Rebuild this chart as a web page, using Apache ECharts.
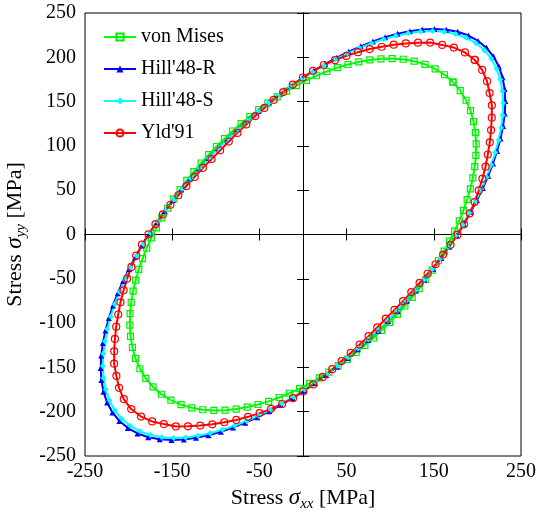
<!DOCTYPE html>
<html><head><meta charset="utf-8">
<script src="https://cdn.jsdelivr.net/npm/echarts@6/dist/echarts.min.js"></script>
<style>html,body{margin:0;padding:0;background:#fff}#c{width:536px;height:521px}</style>
</head><body><div id="c"></div>
<script>
const seriesNames = ["von Mises", "Hill'48-R", "Hill'48-S", "Yld'91"];
const xTickValues = [-250, -150, -50, 50, 150, 250];
const yTickValues = [-250, -200, -150, -100, -50, 0, 50, 100, 150, 200, 250];

const vonMises = [
[172.0,172.0],[180.3,162.3],[187.0,151.5],[192.1,139.8],[195.6,127.5],[197.8,114.9],[198.6,102.2],[198.3,89.4],[197.0,76.6],[194.8,64.0],[191.9,51.6],[188.3,39.4],[184.0,27.3],[179.2,15.5],[173.9,3.9],[168.1,-7.5],[161.9,-18.7],[155.3,-29.6],[148.2,-40.3],[140.9,-50.8],[133.2,-61.0],[125.2,-71.0],[116.8,-80.7],[108.2,-90.1],
[99.3,-99.3],[90.1,-108.2],[80.7,-116.8],[71.0,-125.2],[61.0,-133.2],[50.8,-140.9],[40.3,-148.2],[29.6,-155.3],[18.7,-161.9],[7.5,-168.1],[-3.9,-173.9],[-15.5,-179.2],[-27.3,-184.0],[-39.4,-188.3],[-51.6,-191.9],[-64.0,-194.8],[-76.6,-197.0],[-89.4,-198.3],[-102.2,-198.6],[-114.9,-197.8],[-127.5,-195.6],[-139.8,-192.1],[-151.5,-187.0],[-162.3,-180.3],
[-172.0,-172.0],[-180.3,-162.3],[-187.0,-151.5],[-192.1,-139.8],[-195.6,-127.5],[-197.8,-114.9],[-198.6,-102.2],[-198.3,-89.4],[-197.0,-76.6],[-194.8,-64.0],[-191.9,-51.6],[-188.3,-39.4],[-184.0,-27.3],[-179.2,-15.5],[-173.9,-3.9],[-168.1,7.5],[-161.9,18.7],[-155.3,29.6],[-148.2,40.3],[-140.9,50.8],[-133.2,61.0],[-125.2,71.0],[-116.8,80.7],[-108.2,90.1],
[-99.3,99.3],[-90.1,108.2],[-80.7,116.8],[-71.0,125.2],[-61.0,133.2],[-50.8,140.9],[-40.3,148.2],[-29.6,155.3],[-18.7,161.9],[-7.5,168.1],[3.9,173.9],[15.5,179.2],[27.3,184.0],[39.4,188.3],[51.6,191.9],[64.0,194.8],[76.6,197.0],[89.4,198.3],[102.2,198.6],[114.9,197.8],[127.5,195.6],[139.8,192.1],[151.5,187.0],[162.3,180.3],
[172.0,172.0]
];

const hill48R = [
[210.5,210.5],[218.5,200.8],[224.6,189.7],[228.8,177.4],[231.2,164.3],[232.0,150.7],[231.4,136.7],[229.5,122.6],[226.5,108.4],[222.6,94.2],[217.9,80.1],[212.4,66.2],[206.3,52.4],[199.5,38.8],[192.3,25.3],[184.5,12.1],[176.3,-1.0],[167.6,-13.9],[158.6,-26.6],[149.2,-39.0],[139.5,-51.2],[129.5,-63.1],[119.1,-74.8],[108.5,-86.3],
[97.5,-97.5],[86.3,-108.5],[74.8,-119.1],[63.1,-129.5],[51.2,-139.5],[39.0,-149.2],[26.6,-158.6],[13.9,-167.6],[1.0,-176.3],[-12.1,-184.5],[-25.3,-192.3],[-38.8,-199.5],[-52.4,-206.3],[-66.2,-212.4],[-80.1,-217.9],[-94.2,-222.6],[-108.4,-226.5],[-122.6,-229.5],[-136.7,-231.4],[-150.7,-232.0],[-164.3,-231.2],[-177.4,-228.8],[-189.7,-224.6],[-200.8,-218.5],
[-210.5,-210.5],[-218.5,-200.8],[-224.6,-189.7],[-228.8,-177.4],[-231.2,-164.3],[-232.0,-150.7],[-231.4,-136.7],[-229.5,-122.6],[-226.5,-108.4],[-222.6,-94.2],[-217.9,-80.1],[-212.4,-66.2],[-206.3,-52.4],[-199.5,-38.8],[-192.3,-25.3],[-184.5,-12.1],[-176.3,1.0],[-167.6,13.9],[-158.6,26.6],[-149.2,39.0],[-139.5,51.2],[-129.5,63.1],[-119.1,74.8],[-108.5,86.3],
[-97.5,97.5],[-86.3,108.5],[-74.8,119.1],[-63.1,129.5],[-51.2,139.5],[-39.0,149.2],[-26.6,158.6],[-13.9,167.6],[-1.0,176.3],[12.1,184.5],[25.3,192.3],[38.8,199.5],[52.4,206.3],[66.2,212.4],[80.1,217.9],[94.2,222.6],[108.4,226.5],[122.6,229.5],[136.7,231.4],[150.7,232.0],[164.3,231.2],[177.4,228.8],[189.7,224.6],[200.8,218.5],
[210.5,210.5]
];

const hill48S = [
[208.0,208.0],[215.9,198.4],[222.0,187.2],[226.3,175.0],[228.7,162.0],[229.6,148.5],[229.0,134.7],[227.2,120.6],[224.4,106.6],[220.5,92.5],[215.9,78.6],[210.5,64.8],[204.5,51.1],[197.9,37.6],[190.7,24.3],[183.1,11.1],[175.0,-1.8],[166.5,-14.5],[157.5,-27.1],[148.3,-39.3],[138.7,-51.4],[128.8,-63.2],[118.5,-74.8],[108.0,-86.1],
[97.2,-97.2],[86.1,-108.0],[74.8,-118.5],[63.2,-128.8],[51.4,-138.7],[39.3,-148.3],[27.1,-157.5],[14.5,-166.5],[1.8,-175.0],[-11.1,-183.1],[-24.3,-190.7],[-37.6,-197.9],[-51.1,-204.5],[-64.8,-210.5],[-78.6,-215.9],[-92.5,-220.5],[-106.6,-224.4],[-120.6,-227.2],[-134.7,-229.0],[-148.5,-229.6],[-162.0,-228.7],[-175.0,-226.3],[-187.2,-222.0],[-198.4,-215.9],
[-208.0,-208.0],[-215.9,-198.4],[-222.0,-187.2],[-226.3,-175.0],[-228.7,-162.0],[-229.6,-148.5],[-229.0,-134.7],[-227.2,-120.6],[-224.4,-106.6],[-220.5,-92.5],[-215.9,-78.6],[-210.5,-64.8],[-204.5,-51.1],[-197.9,-37.6],[-190.7,-24.3],[-183.1,-11.1],[-175.0,1.8],[-166.5,14.5],[-157.5,27.1],[-148.3,39.3],[-138.7,51.4],[-128.8,63.2],[-118.5,74.8],[-108.0,86.1],
[-97.2,97.2],[-86.1,108.0],[-74.8,118.5],[-63.2,128.8],[-51.4,138.7],[-39.3,148.3],[-27.1,157.5],[-14.5,166.5],[-1.8,175.0],[11.1,183.1],[24.3,190.7],[37.6,197.9],[51.1,204.5],[64.8,210.5],[78.6,215.9],[92.5,220.5],[106.6,224.4],[120.6,227.2],[134.7,229.0],[148.5,229.6],[162.0,228.7],[175.0,226.3],[187.2,222.0],[198.4,215.9],
[208.0,208.0]
];

const yld91 = [
[197.0,197.0],[205.5,185.7],[211.0,173.0],[214.0,159.6],[216.6,145.8],[216.5,131.9],[215.7,117.9],[214.2,104.0],[211.9,90.3],[209.3,76.5],[205.8,63.0],[201.6,49.8],[196.8,36.6],[191.3,23.9],[184.7,11.5],[177.2,-0.2],[169.2,-11.7],[160.7,-22.7],[152.0,-33.6],[142.9,-44.3],[133.7,-54.7],[124.2,-65.0],[114.7,-75.2],[104.9,-85.1],
[95.0,-95.0],[85.1,-104.9],[75.2,-114.7],[65.0,-124.2],[54.7,-133.7],[44.3,-142.9],[33.6,-152.0],[22.7,-160.7],[11.7,-169.2],[0.2,-177.2],[-11.5,-184.7],[-23.9,-191.3],[-36.6,-196.8],[-49.8,-201.6],[-63.0,-205.8],[-76.5,-209.3],[-90.3,-211.9],[-104.0,-214.2],[-117.9,-215.7],[-131.9,-216.5],[-145.8,-216.6],[-159.6,-214.0],[-173.0,-211.0],[-185.7,-205.5],
[-197.0,-197.0],[-205.5,-185.7],[-211.0,-173.0],[-214.0,-159.6],[-216.6,-145.8],[-216.5,-131.9],[-215.7,-117.9],[-214.2,-104.0],[-211.9,-90.3],[-209.3,-76.5],[-205.8,-63.0],[-201.6,-49.8],[-196.8,-36.6],[-191.3,-23.9],[-184.7,-11.5],[-177.2,0.2],[-169.2,11.7],[-160.7,22.7],[-152.0,33.6],[-142.9,44.3],[-133.7,54.7],[-124.2,65.0],[-114.7,75.2],[-104.9,85.1],
[-95.0,95.0],[-85.1,104.9],[-75.2,114.7],[-65.0,124.2],[-54.7,133.7],[-44.3,142.9],[-33.6,152.0],[-22.7,160.7],[-11.7,169.2],[-0.2,177.2],[11.5,184.7],[23.9,191.3],[36.6,196.8],[49.8,201.6],[63.0,205.8],[76.5,209.3],[90.3,211.9],[104.0,214.2],[117.9,215.7],[131.9,216.5],[145.8,216.6],[159.6,214.0],[173.0,211.0],[185.7,205.5],
[197.0,197.0]
];

const FONT = "'Liberation Serif','Times New Roman',serif";
const titleRich = {
  a: { fontFamily: FONT, fontSize: 22, color: '#000' },
  s: { fontFamily: FONT, fontSize: 23, fontStyle: 'italic', color: '#000' },
  sub: { fontFamily: FONT, fontSize: 15, fontStyle: 'italic', color: '#000', padding: [12, 0, 0, 0] }
};

const chart = echarts.init(document.getElementById('c'), null, { renderer: 'canvas' });

function centerAxis(dim, inside) {
  return {
    type: 'value', min: -250, max: 250, interval: 50,
    position: dim === 'x' ? 'bottom' : 'left',
    axisLine: { show: true, onZero: true, onZeroAxisIndex: 0, lineStyle: { color: '#000', width: 1 } },
    axisTick: { show: true, inside: inside, length: 6, lineStyle: { color: '#000', width: 1 },
      customValues: dim === 'x' ? xTickValues : yTickValues },
    axisLabel: { show: false },
    splitLine: { show: false }
  };
}

const option = {
  animation: false,
  backgroundColor: '#fff',
  grid: { left: 85, right: 15, top: 13, bottom: 65, show: true, borderColor: '#000', borderWidth: 1,
          containLabel: false, outerBoundsMode: 'none' },
  legend: {
    orient: 'vertical', left: 103, top: 27, padding: 0, itemWidth: 32, itemHeight: 9, itemGap: 12,
    selectedMode: false, data: seriesNames,
    textStyle: { fontFamily: FONT, fontSize: 20, color: '#000' }
  },
  xAxis: [
    {
      type: 'value', min: -250, max: 250, interval: 50, position: 'bottom',
      axisLine: { show: false, onZero: false },
      axisTick: { show: false },
      splitLine: { show: false },
      axisLabel: { customValues: xTickValues, fontFamily: FONT, fontSize: 20, color: '#000', margin: 6 },
      name: '{a|Stress }{s|σ}{sub|xx}{a| [MPa]}',
      nameLocation: 'middle', nameGap: 28,
      nameTextStyle: { fontFamily: FONT, fontSize: 22, color: '#000', rich: titleRich }
    },
    centerAxis('x', false),
    centerAxis('x', true)
  ],
  yAxis: [
    {
      type: 'value', min: -250, max: 250, interval: 50, position: 'left',
      axisLine: { show: false, onZero: false },
      axisTick: { show: false },
      splitLine: { show: false },
      axisLabel: { customValues: yTickValues, fontFamily: FONT, fontSize: 20, color: '#000', margin: 9 },
      name: '{a|Stress }{s|σ}{sub|yy}{a| [MPa]}',
      nameLocation: 'middle', nameGap: 38, nameRotate: 90,
      nameTextStyle: { fontFamily: FONT, fontSize: 22, color: '#000', rich: titleRich }
    },
    centerAxis('y', false),
    centerAxis('y', true)
  ],
  series: [
    {
      name: seriesNames[0], type: 'line', data: vonMises, xAxisIndex: 0, yAxisIndex: 0,
      symbol: 'rect', symbolSize: 6, showAllSymbol: true, smooth: false,
      lineStyle: { color: '#00ff00', width: 2 },
      itemStyle: { color: 'rgba(255,255,255,0)', borderColor: '#00ee00', borderWidth: 1.2 }
    },
    {
      name: seriesNames[1], type: 'line', data: hill48R, xAxisIndex: 0, yAxisIndex: 0,
      symbol: 'triangle', symbolSize: 6, showAllSymbol: true, smooth: false,
      lineStyle: { color: '#0000ff', width: 2 },
      itemStyle: { color: '#0000ff' }
    },
    {
      name: seriesNames[2], type: 'line', data: hill48S, xAxisIndex: 0, yAxisIndex: 0,
      symbol: 'diamond', symbolSize: 6, showAllSymbol: true, smooth: false,
      lineStyle: { color: '#00ffff', width: 2 },
      itemStyle: { color: '#00ffff' }
    },
    {
      name: seriesNames[3], type: 'line', data: yld91, xAxisIndex: 0, yAxisIndex: 0,
      symbol: 'circle', symbolSize: 7, showAllSymbol: true, smooth: false,
      lineStyle: { color: '#ff0000', width: 2 },
      itemStyle: { color: 'rgba(255,255,255,0)', borderColor: '#ff0000', borderWidth: 1.2 }
    }
  ]
};
chart.setOption(option);
</script>
</body></html>
